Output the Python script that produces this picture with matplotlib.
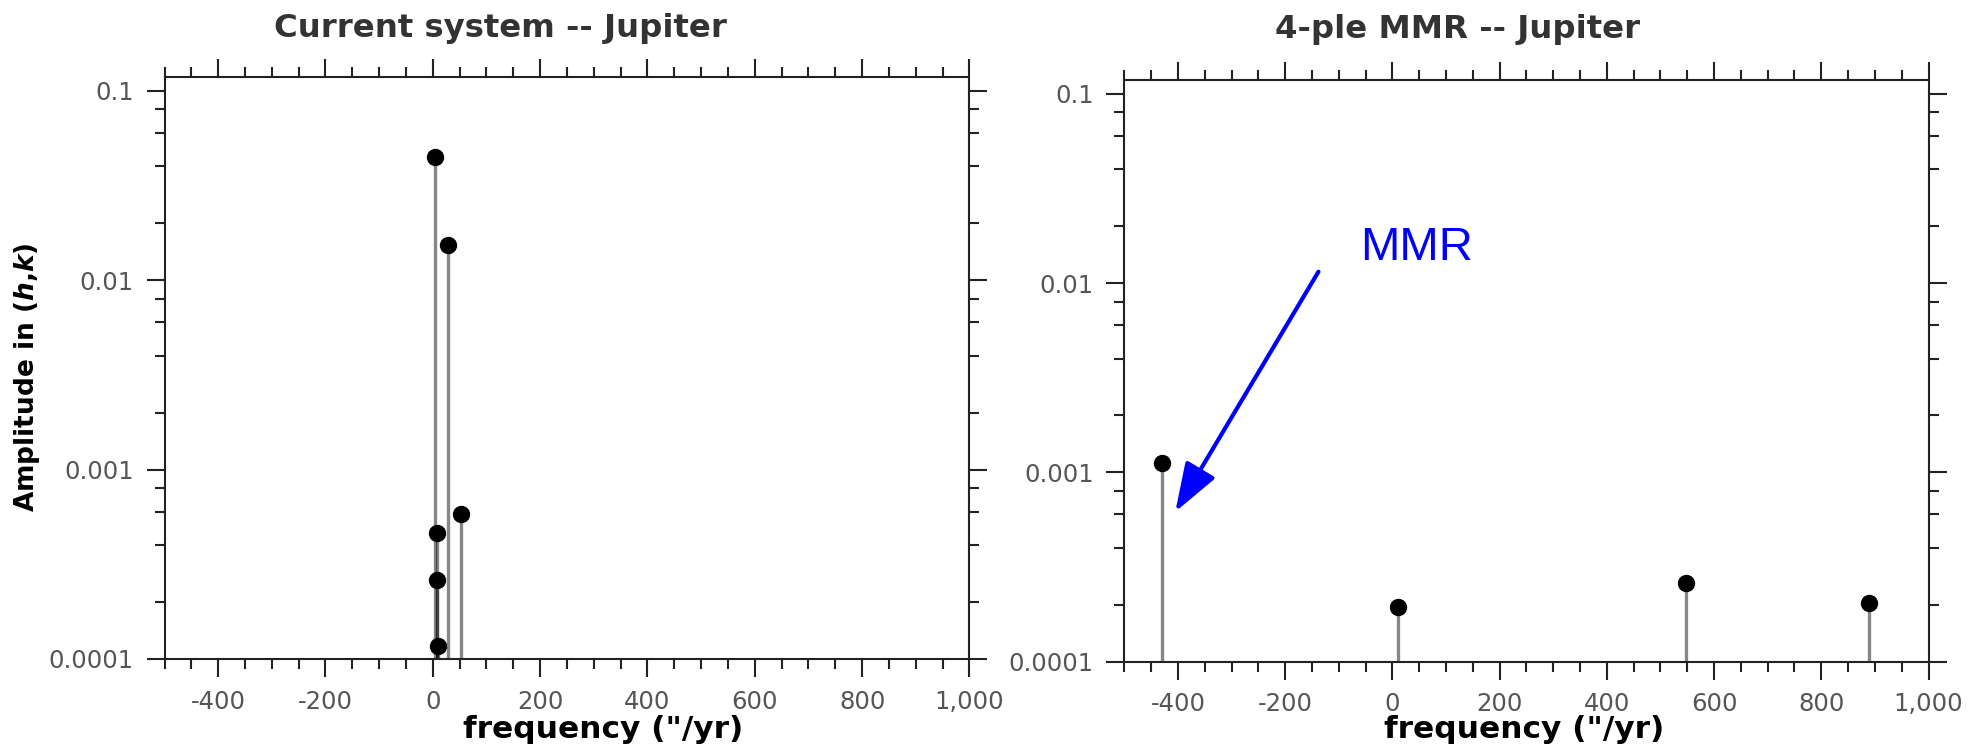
import matplotlib
matplotlib.use("Agg")
import matplotlib.pyplot as plt
from matplotlib.ticker import FixedLocator, MultipleLocator, NullFormatter

plt.rcParams['font.family'] = ['DejaVu Sans']
plt.rcParams['axes.unicode_minus'] = False
plt.rcParams['mathtext.fontset'] = 'custom'
plt.rcParams['mathtext.it'] = 'DejaVu Sans:bold:italic'
plt.rcParams['mathtext.rm'] = 'DejaVu Sans:bold'

# ---- data ----
titles = ["Current system -- Jupiter", "4-ple MMR -- Jupiter"]
xlabel = "frequency (\"/yr)"
ylabel = r"Amplitude in $\mathit{(h{,}k)}$"

cur_freq = [4.0, 29.0, 52.0, 8.0, 8.5, 10.5]
cur_amp = [0.0448, 0.0153, 0.000585, 0.000464, 0.00026, 0.000117]

mmr_freq = [-430.0, 10.0, 548.0, 889.0]
mmr_amp = [0.00112, 0.000195, 0.000261, 0.000205]

ytick_vals = [1e-4, 1e-3, 1e-2, 1e-1]
ytick_labels = ["0.0001", "0.001", "0.01", "0.1"]
xtick_vals = [-400, -200, 0, 200, 400, 600, 800, 1000]
xtick_labels = ["-400", "-200", "0", "200", "400", "600", "800", "1,000"]

annot_text = "MMR"
annot_tip = (-405.0, 0.00062)
annot_tail = (-138.0, 0.0115)
annot_text_pos = (-60.0, 0.0133)

# ---- figure ----
W, H = 1975, 749
fig = plt.figure(figsize=(W / 100, H / 100), dpi=100)

def px_rect(l, r, t, b):
    return [l / W, 1 - b / H, (r - l) / W, (b - t) / H]

axL = fig.add_axes(px_rect(164.5, 969.4, 77, 659))
axR = fig.add_axes(px_rect(1124.4, 1928.5, 80, 661.7))

minor_y = []
for dec in [1e-4, 1e-3, 1e-2]:
    for m in [2, 4, 6, 8]:
        minor_y.append(m * dec)

tick_color = "#555555"

def style(ax):
    ax.set_yscale('log')
    ax.set_xlim(-500, 1000)
    ax.set_ylim(1e-4, 0.1185)
    ax.yaxis.set_major_locator(FixedLocator(ytick_vals))
    ax.set_yticklabels(ytick_labels)
    ax.yaxis.set_minor_locator(FixedLocator(minor_y))
    ax.yaxis.set_minor_formatter(NullFormatter())
    ax.xaxis.set_major_locator(FixedLocator(xtick_vals))
    ax.set_xticklabels(xtick_labels)
    ax.xaxis.set_minor_locator(MultipleLocator(50))
    ax.tick_params(which='both', direction='out', top=True, right=True,
                   width=1.5, color='#222222')
    ax.tick_params(which='major', length=13, labelsize=17.5,
                   labelcolor=tick_color, pad=9)
    ax.tick_params(which='minor', length=7)
    for sp in ax.spines.values():
        sp.set_linewidth(1.5)
        sp.set_color('#222222')

def draw(ax, xs, ys):
    ax.vlines(xs, 1e-4, ys, colors='black', alpha=0.47, linewidth=2.4, zorder=2)
    ax.plot(xs, ys, 'o', color='black', markersize=11.5, linestyle='none',
            zorder=3, clip_on=False)

style(axL)
style(axR)
draw(axL, cur_freq, cur_amp)
draw(axR, mmr_freq, mmr_amp)

axR.annotate('', xy=annot_tip, xytext=annot_tail,
             arrowprops=dict(arrowstyle='-|>,head_length=30,head_width=10.5',
                             mutation_scale=1, color='blue', lw=3,
                             shrinkA=0, shrinkB=0))
axR.text(annot_text_pos[0], annot_text_pos[1], annot_text, color='blue',
         fontsize=34, family='Liberation Sans', ha='left', va='baseline')

# titles and labels
fig.text(500 / W, 1 - 37 / H, titles[0], ha='center', va='baseline',
         fontsize=23.3, fontweight='bold', color='#333333')
fig.text(1458 / W, 1 - 38 / H, titles[1], ha='center', va='baseline',
         fontsize=23.3, fontweight='bold', color='#333333')
fig.text(603 / W, 1 - 738 / H, xlabel, ha='center', va='baseline',
         fontsize=22.5, fontweight='bold', color='black')
fig.text(1524 / W, 1 - 738 / H, xlabel, ha='center', va='baseline',
         fontsize=22.5, fontweight='bold', color='black')
fig.text(27 / W, 1 - 377 / H, ylabel, ha='center', va='center', rotation=90,
         fontsize=19, fontweight='bold', color='black')

fig.savefig("out.png", dpi=100)
